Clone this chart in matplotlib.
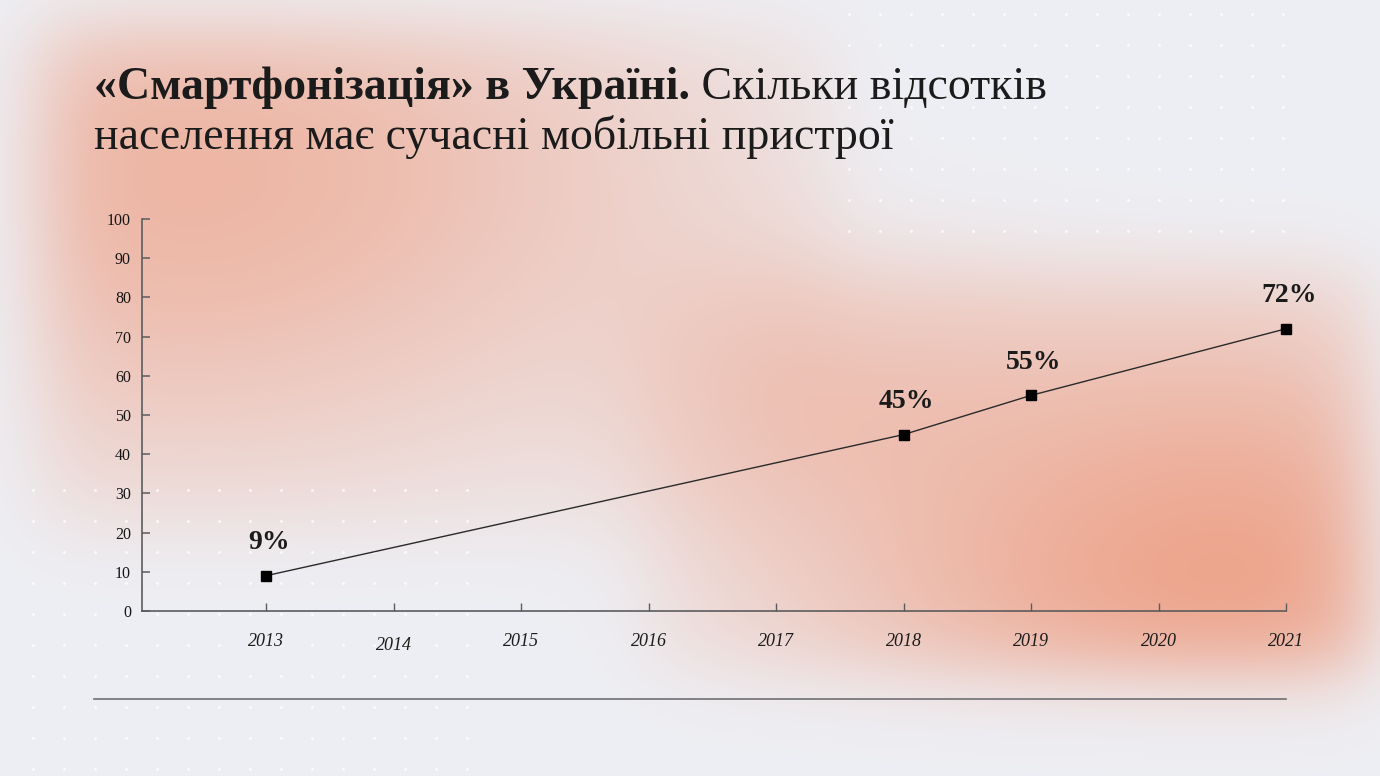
import numpy as np
import matplotlib
matplotlib.use("Agg")
import matplotlib.pyplot as plt

# ---------------- data ----------------
years = [2013, 2014, 2015, 2016, 2017, 2018, 2019, 2020, 2021]
year_labels = ["2013", "2014", "2015", "2016", "2017", "2018", "2019", "2020", "2021"]
data_years = [2013, 2018, 2019, 2021]
share = [9, 45, 55, 72]
value_labels = ["9%", "45%", "55%", "72%"]
yticks = [0, 10, 20, 30, 40, 50, 60, 70, 80, 90, 100]
title_bold = "«Смартфонізація» в Україні."
title_rest = " Скільки відсотків"
title_line2 = "населення має сучасні мобільні пристрої"

# ---------------- figure / background ----------------
W, H = 1380, 776
fig = plt.figure(figsize=(W / 100, H / 100), dpi=100)

yy, xx = np.mgrid[0:H, 0:W] + 0.5


def sig(z):
    return 1.0 / (1.0 + np.exp(-z))


def rect(x0, x1, y0, y1, s):
    return sig((xx - x0) / s) * sig((x1 - xx) / s) * sig((yy - y0) / s) * sig((y1 - yy) / s)


aA = rect(40, 840, 25, 540, 26) * 0.64 * np.exp(-(((xx - 170) / 560) ** 2 + ((yy - 170) / 330) ** 2))
aB = rect(640, 1368, 258, 672, 24) * 0.84 * np.exp(-(((xx - 1230) / 450) ** 2 + ((yy - 600) / 320) ** 2))
aC = 0.34 * np.exp(-(((xx - 820) / 230) ** 2 + ((yy - 380) / 170) ** 2)) * rect(560, 1300, 220, 700, 60)
alpha = 1 - (1 - aA) * (1 - aB) * (1 - aC)
alpha = alpha[..., None]
base = np.array([238, 239, 244]) / 255.0
orange = np.array([237, 150, 120]) / 255.0
img = base * (1 - alpha) + orange * alpha

bg = fig.add_axes([0, 0, 1, 1])
bg.imshow(img, extent=(0, W, H, 0), aspect="auto", interpolation="bilinear")
bg.set_xlim(0, W)
bg.set_ylim(H, 0)
bg.axis("off")

# dot grids
gx1, gy1 = np.meshgrid(np.arange(15) * 31.0 + 33, np.arange(10) * 31.0 + 490)
gx2, gy2 = np.meshgrid(np.arange(15) * 31.0 + 849, np.arange(8) * 31.0 + 14)
for gx, gy in ((gx1, gy1), (gx2, gy2)):
    bg.scatter(gx.ravel(), gy.ravel(), s=4, c="white", alpha=0.85, linewidths=0, zorder=2)

# separator line
bg.plot([94, 1286], [699, 699], color="#6f6f73", lw=1.2, zorder=3)

# title
serif = "Liberation Serif"
t1 = bg.text(94, 99, title_bold, fontsize=33, fontweight="bold", family=serif,
             color="#1b1b1b", va="baseline", ha="left", zorder=4)
fig.canvas.draw()
bb = t1.get_window_extent()
bg.text(bb.x1, 99, title_rest, fontsize=33, family=serif, color="#1b1b1b",
        va="baseline", ha="left", zorder=4)
bg.text(94, 149, title_line2, fontsize=33, family=serif, color="#1b1b1b",
        va="baseline", ha="left", zorder=4)

# ---------------- chart ----------------
ax = fig.add_axes([142 / W, 1 - 611 / H, (1286 - 142) / W, (611 - 219) / H])
ax.patch.set_alpha(0)
for s in ("top", "right"):
    ax.spines[s].set_visible(False)
for s in ("left", "bottom"):
    ax.spines[s].set_color("#5c5c5e")
    ax.spines[s].set_linewidth(1.2)

x0 = years[0] - 124 / 127.5
ax.set_xlim(x0, years[-1])
ax.set_ylim(0, 100)
ax.set_yticks(yticks)
ax.set_yticklabels([str(v) for v in yticks], family=serif)
ax.set_xticks(years)
ax.tick_params(axis="y", direction="in", length=6, width=1.1, color="#5c5c5e",
               pad=8, labelsize=11.5, labelcolor="#151515")
ax.tick_params(axis="x", direction="in", length=6, width=1.0, color="#5c5c5e",
               labelbottom=False)

label_dy = [0, 4, 0, 0, 0, 0, 0, 0, 0]
for yr, lab, dy in zip(years, year_labels, label_dy):
    ax.annotate(lab, xy=(yr, 0), xytext=(0, -31 - dy), textcoords="offset pixels",
                ha="center", va="center", fontsize=13, style="italic",
                family=serif, color="#1b1b1b", annotation_clip=False)

ax.plot(data_years, share, color="#2a2a2a", lw=1.0, marker="s", ms=7.5,
        mfc="black", mec="black", zorder=5, clip_on=False)

for yr, v, lab in zip(data_years, share, value_labels):
    ax.annotate(lab, xy=(yr, v), xytext=(3, 33), textcoords="offset pixels",
                ha="center", va="center", fontsize=20, fontweight="bold",
                family=serif, color="#1b1b1b", annotation_clip=False)

fig.savefig("out.png", dpi=100)
